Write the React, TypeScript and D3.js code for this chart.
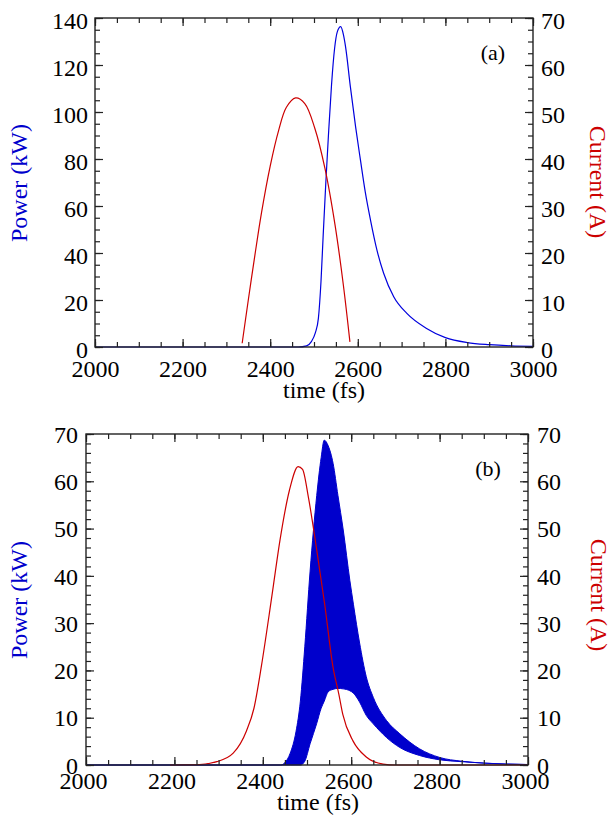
import React, { useEffect, useRef } from "react";
import * as d3 from "d3";

const W = 608;
const H = 821;

// ---- panel (a) ----
const timePowerA = [2000, 2464, 2483, 2494, 2503, 2510, 2516, 2521, 2527, 2533, 2540, 2547, 2553, 2561, 2567, 2572, 2583, 2595, 2606, 2617, 2629, 2644, 2659, 2682, 2712, 2756, 2800, 2850, 2900, 2950, 3000];
const powerA = [0, 0, 0.5, 2.3, 6, 12.2, 28, 47.7, 70, 90.2, 111.5, 127, 134, 136.3, 133, 127.8, 110.8, 93.7, 79.6, 66, 54, 41, 31.4, 21.4, 14.3, 8, 4.0, 1.9, 1.0, 0.5, 0.3];
const timeCurrentA = [2336, 2350, 2365, 2380, 2400, 2419, 2437, 2458, 2479, 2502, 2525, 2548, 2567, 2582];
const currentA = [0.8, 10, 19.5, 28.5, 38.5, 46, 51, 53, 51.8, 46.5, 38, 26, 13.2, 1.1];

// ---- panel (b) ----
const timePowerB = [2000, 2440, 2450, 2462, 2475, 2485, 2495, 2507, 2522, 2532, 2539, 2548, 2559, 2570, 2582, 2597, 2605, 2619, 2634, 2650, 2680, 2710, 2755, 2800, 2850, 2900, 2950, 3000];
const powerUpperB = [0, 0, 0.5, 2.5, 7, 13.5, 25, 41, 57, 65, 68.7, 67.5, 63.8, 57, 49.7, 39, 34, 25.8, 18.7, 14.3, 9.4, 6.6, 3.4, 1.6, 0.8, 0.4, 0.2, 0.1];
const powerLowerB = [0, 0, 0, 0, 0, 0, 0.8, 4.5, 8.8, 12, 13.5, 15.5, 16, 16.2, 16.1, 15.7, 15.2, 13.3, 10.5, 8.7, 5.8, 3.7, 2, 1.1, 0.7, 0.4, 0.2, 0.1];
const timeCurrentB = [2190, 2250, 2296, 2333, 2363, 2380, 2397, 2416, 2424, 2439, 2460, 2480, 2490, 2503, 2522, 2540, 2559, 2572, 2581, 2604, 2634, 2672, 2700, 3000];
const currentB = [0, 0.05, 0.7, 2.5, 7.2, 12, 21, 32.8, 38, 47.6, 58, 63.1, 62.5, 56.7, 45.5, 34, 20.6, 15, 10.7, 5.1, 1.7, 0.2, 0, 0];

const xTicks = [2000, 2200, 2400, 2600, 2800, 3000];
const xMinor = d3.range(2000, 3001, 50);

const SERIF = "Liberation Serif, Times New Roman, Times, serif";
const BLUE = "#0000dd";
const RED = "#cc0000";
const AXIS = "#222";

type Box = { left: number; right: number; top: number; bottom: number };

const addAxis = (g: any, gen: any, transform: string) => {
  const a = g.append("g").attr("transform", transform).call(gen);
  a.select(".domain").remove();
  a.attr("color", AXIS).attr("font-family", null).attr("font-size", null);
  a.selectAll("line").attr("stroke-width", 1.2);
  a.selectAll("text")
    .attr("fill", "#000")
    .style("font-family", SERIF)
    .style("font-size", "24px");
  return a;
};

const App = () => {
  const ref = useRef<SVGSVGElement>(null);

  useEffect(() => {
    draw();
  });

  const label = (svg: any, txt: string, size: number, fill: string) =>
    svg
      .append("text")
      .attr("text-anchor", "middle")
      .attr("fill", fill)
      .style("font-family", SERIF)
      .style("font-size", `${size}px`)
      .text(txt);

  const drawFrame = (svg: any, box: Box, yL: any, yR: any, cfg: any) => {
    const x = d3.scaleLinear().domain([2000, 3000]).range([box.left, box.right]);

    // bottom axis
    const b = addAxis(svg, d3.axisBottom(x).tickValues(xTicks).tickSize(-8).tickFormat(d3.format("d")), `translate(0,${box.bottom})`);
    b.selectAll("text").attr("y", cfg.xPad).attr("dx", cfg.xDx);
    addAxis(svg, d3.axisBottom(x).tickValues(xMinor).tickSize(-5).tickFormat(() => ""), `translate(0,${box.bottom})`);
    // top axis
    addAxis(svg, d3.axisTop(x).tickValues(xTicks).tickSize(-8).tickFormat(() => ""), `translate(0,${box.top})`);
    addAxis(svg, d3.axisTop(x).tickValues(xMinor).tickSize(-5).tickFormat(() => ""), `translate(0,${box.top})`);

    // left axis
    const l = addAxis(svg, d3.axisLeft(yL).tickValues(cfg.leftTicks).tickSize(-8).tickPadding(cfg.leftPad), `translate(${box.left},0)`);
    l.selectAll("text").attr("dy", cfg.yDy);
    addAxis(svg, d3.axisLeft(yL).tickValues(cfg.leftMinor).tickSize(-5).tickFormat(() => ""), `translate(${box.left},0)`);
    // right axis
    const r = addAxis(svg, d3.axisRight(yR).tickValues(cfg.rightTicks).tickSize(-8).tickPadding(cfg.rightPad), `translate(${box.right},0)`);
    r.selectAll("text").attr("dy", cfg.yDy);
    addAxis(svg, d3.axisRight(yR).tickValues(cfg.rightMinor).tickSize(-5).tickFormat(() => ""), `translate(${box.right},0)`);

    svg
      .append("rect")
      .attr("x", box.left)
      .attr("y", box.top)
      .attr("width", box.right - box.left)
      .attr("height", box.bottom - box.top)
      .attr("fill", "none")
      .attr("stroke", AXIS)
      .attr("stroke-width", 1.4);

    // titles
    label(svg, "time (fs)", 24, "#000").attr("x", cfg.xLabelX).attr("y", cfg.xLabelY);
    label(svg, "Power (kW)", 24, "#0000cc").attr("transform", `translate(27,${cfg.powerY}) rotate(-90)`);
    label(svg, "Current (A)", 24, RED).attr("transform", `translate(${cfg.currentX},${cfg.currentY}) rotate(90)`);
    label(svg, cfg.tag, 22, "#000").attr("x", cfg.tagX).attr("y", cfg.tagY);

    return x;
  };

  let draw = () => {
    const svg = d3.select(ref.current);
    svg.selectAll("*").remove();

    svg.append("rect").attr("width", W).attr("height", H).attr("fill", "#fff");

    // ---------- panel (a) ----------
    const boxA: Box = { left: 95, right: 533, top: 18, bottom: 347 };
    const yLA = d3.scaleLinear().domain([0, 140]).range([boxA.bottom, boxA.top]);
    const yRA = d3.scaleLinear().domain([0, 70]).range([boxA.bottom, boxA.top]);
    const xA = d3.scaleLinear().domain([2000, 3000]).range([boxA.left, boxA.right]);

    const gA = svg.append("g");
    gA.append("path")
      .datum(timePowerA.map((t, i) => [t, powerA[i]]))
      .attr("fill", "none")
      .attr("stroke", BLUE)
      .attr("stroke-width", 1.2)
      .attr("d", d3.line<number[]>().x((d) => xA(d[0])).y((d) => yLA(d[1])).curve(d3.curveMonotoneX));
    gA.append("path")
      .datum(timeCurrentA.map((t, i) => [t, currentA[i]]))
      .attr("fill", "none")
      .attr("stroke", RED)
      .attr("stroke-width", 1.2)
      .attr("d", d3.line<number[]>().x((d) => xA(d[0])).y((d) => yRA(d[1])).curve(d3.curveCatmullRom.alpha(0.5)));

    drawFrame(svg, boxA, yLA, yRA, {
      leftTicks: d3.range(0, 141, 20),
      leftMinor: d3.range(0, 141, 5),
      rightTicks: d3.range(0, 71, 10),
      rightMinor: d3.range(0, 71, 2.5),
      leftPad: 7,
      rightPad: 8,
      yDy: "0.42em",
      xPad: 13,
      xDx: 0,
      xLabelX: 324,
      xLabelY: 398,
      powerY: 183,
      currentX: 590,
      currentY: 182,
      tag: "(a)",
      tagX: 493,
      tagY: 60,
    });

    // ---------- panel (b) ----------
    const boxB: Box = { left: 86, right: 528, top: 434, bottom: 765 };
    const yLB = d3.scaleLinear().domain([0, 70]).range([boxB.bottom, boxB.top]);
    const yRB = d3.scaleLinear().domain([0, 70]).range([boxB.bottom, boxB.top]);
    const xB = d3.scaleLinear().domain([2000, 3000]).range([boxB.left, boxB.right]);

    const gB = svg.append("g");
    gB.append("path")
      .datum(timePowerB.map((t, i) => [t, powerLowerB[i], powerUpperB[i]]))
      .attr("fill", "#0000cc")
      .attr("stroke", "#0000cc")
      .attr("stroke-width", 1)
      .attr(
        "d",
        d3
          .area<number[]>()
          .x((d) => xB(d[0]))
          .y0((d) => yLB(d[1]))
          .y1((d) => yLB(d[2]))
          .curve(d3.curveMonotoneX)
      );
    gB.append("path")
      .datum(timeCurrentB.map((t, i) => [t, currentB[i]]))
      .attr("fill", "none")
      .attr("stroke", RED)
      .attr("stroke-width", 1.2)
      .attr("d", d3.line<number[]>().x((d) => xB(d[0])).y((d) => yRB(d[1])).curve(d3.curveMonotoneX));

    drawFrame(svg, boxB, yLB, yRB, {
      leftTicks: d3.range(0, 71, 10),
      leftMinor: d3.range(0, 71, 2),
      rightTicks: d3.range(0, 71, 10),
      rightMinor: d3.range(0, 71, 2),
      leftPad: 8,
      rightPad: 9,
      yDy: "0.34em",
      xPad: 7,
      xDx: -3,
      xLabelX: 318,
      xLabelY: 810,
      powerY: 600,
      currentX: 591,
      currentY: 595,
      tag: "(b)",
      tagX: 488,
      tagY: 476,
    });
  };

  return <svg ref={ref} width={W} height={H} style={{ position: "absolute", left: 0, top: 0 }} />;
};

export default App;
